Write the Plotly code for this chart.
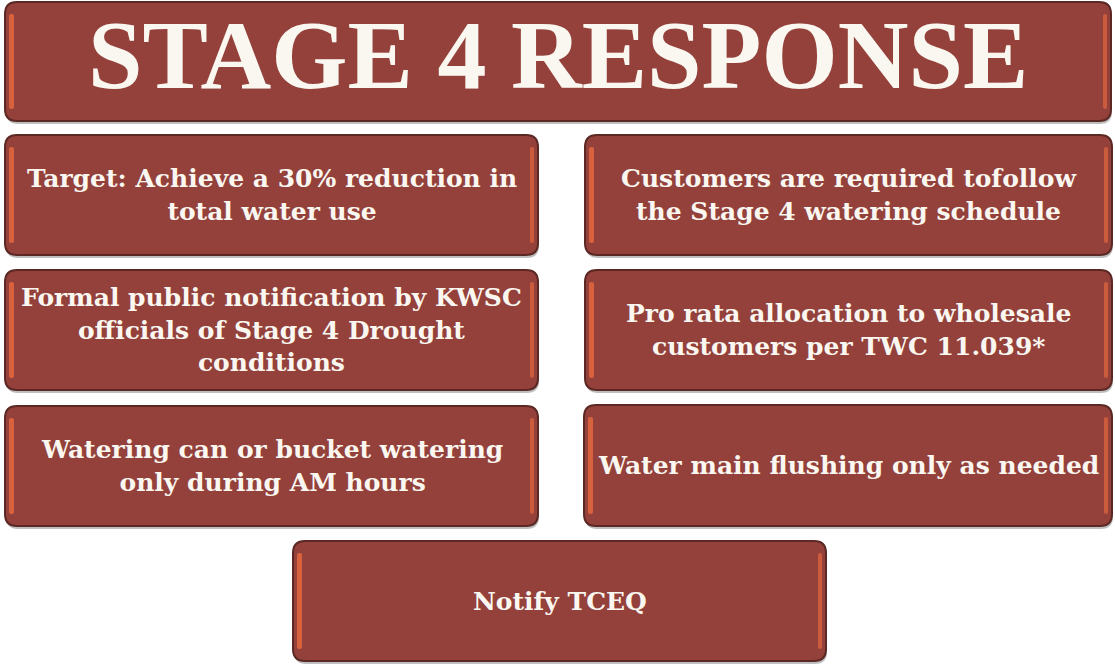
# STAGE 4 RESPONSE - DROUGHT CONTINGENCY INFOGRAPHIC
# ----------------------------------------------------------------------------------------------------

import plotly.graph_objects as go

# DATA
# ----------------------------------------------------------------------------------------------------
title_text = 'STAGE 4 RESPONSE'

left_items = [
    'Target: Achieve a 30% reduction in<br>total water use',
    'Formal public notification by KWSC<br>officials of Stage 4 Drought<br>conditions',
    'Watering can or bucket watering<br>only during AM hours',
]

right_items = [
    'Customers are required tofollow<br>the Stage 4 watering schedule',
    'Pro rata allocation to wholesale<br>customers per TWC 11.039*',
    'Water main flushing only as needed',
]

bottom_item = 'Notify TCEQ'

# LAYOUT CONSTANTS
# ----------------------------------------------------------------------------------------------------
W, H = 1115, 665
BOX_FILL = '#93413a'
BOX_EDGE = '#5b2824'
STRIPE = '#d8613e'
TEXT = '#faf6f0'
TITLE_FONT = 'Liberation Serif'
BODY_FONT = 'DejaVu Serif'

title_box = (5, 2, 1111, 121)
left_boxes = [(5, 135, 538, 255), (5, 270, 538, 390), (5, 406, 538, 526)]
right_boxes = [(585, 135, 1112, 255), (585, 270, 1112, 390), (584, 405, 1112, 526)]
bottom_box = (293, 541, 826, 661)


def rounded(x0, y0, x1, y1, r):
    return (f'M {x0+r},{y0} L {x1-r},{y0} Q {x1},{y0} {x1},{y0+r} '
            f'L {x1},{y1-r} Q {x1},{y1} {x1-r},{y1} L {x0+r},{y1} '
            f'Q {x0},{y1} {x0},{y1-r} L {x0},{y0+r} Q {x0},{y0} {x0+r},{y0} Z')


shapes = []


def add_box(box):
    x0, y0, x1, y1 = box
    # soft shadow
    shapes.append(dict(type='path', path=rounded(x0 + 1, y0 + 3, x1 + 1, y1 + 3, 12),
                       fillcolor='rgba(0,0,0,0.25)', line=dict(width=0), layer='below'))
    # body
    shapes.append(dict(type='path', path=rounded(x0, y0, x1, y1, 12),
                       fillcolor=BOX_FILL, line=dict(color=BOX_EDGE, width=2), layer='below'))
    # bevel highlights on the left and right edges
    shapes.append(dict(type='path', path=rounded(x0 + 4, y0 + 12, x0 + 9, y1 - 12, 2),
                       fillcolor=STRIPE, line=dict(width=0), layer='below'))
    shapes.append(dict(type='path', path=rounded(x1 - 8, y0 + 12, x1 - 4, y1 - 12, 2),
                       fillcolor=STRIPE, line=dict(width=0), opacity=0.8, layer='below'))


fig = go.Figure()

for b in [title_box] + left_boxes + right_boxes + [bottom_box]:
    add_box(b)


def centre(box):
    x0, y0, x1, y1 = box
    return (x0 + x1) / 2, (y0 + y1) / 2


annotations = []
cx, cy = centre(title_box)
annotations.append(dict(x=cx, y=cy - 7, text=f'<b>{title_text}</b>', showarrow=False,
                        font=dict(family=TITLE_FONT, size=98, color=TEXT)))

for box, txt in zip(left_boxes + right_boxes + [bottom_box], left_items + right_items + [bottom_item]):
    cx, cy = centre(box)
    annotations.append(dict(x=cx, y=cy, text=f'<b>{txt}</b>', showarrow=False,
                            font=dict(family=BODY_FONT, size=25, color=TEXT)))

fig.update_layout(
    width=W, height=H,
    margin=dict(l=0, r=0, t=0, b=0),
    paper_bgcolor='white', plot_bgcolor='white',
    xaxis=dict(range=[0, W], visible=False, fixedrange=True),
    yaxis=dict(range=[H, 0], visible=False, fixedrange=True),
    shapes=shapes,
    annotations=annotations,
    showlegend=False,
)

# drop the default page margin so the figure sits at the window corner
fig.write_html('out.html', config={'displayModeBar': False},
               post_script="document.body.style.margin='0';")
